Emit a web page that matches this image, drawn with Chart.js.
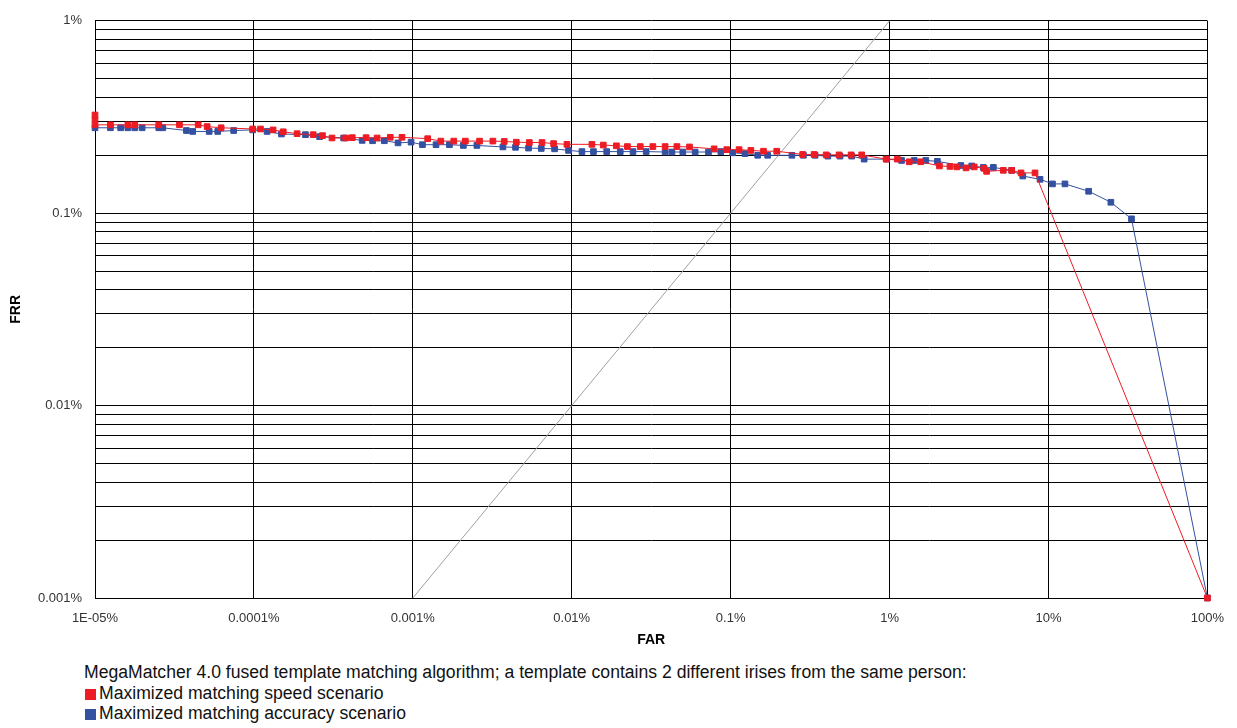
<!DOCTYPE html>
<html>
<head>
<meta charset="utf-8">
<script src="https://cdn.jsdelivr.net/npm/chart.js@4.4.1/dist/chart.umd.min.js"></script>
<style>
  body { margin: 0; background: #fff; font-family: "Liberation Sans", Arial, sans-serif; }
  #wrap { position: absolute; left: 0; top: 0; width: 1237px; height: 660px; }
  #legend { position: absolute; left: 84px; top: 662px; font-size: 17.6px; color: #111; line-height: 20.5px; }
  #legend .sw { display: inline-block; width: 11px; height: 11px; margin: 0 3px 0 1px; vertical-align: -1px; }
</style>
</head>
<body>
<div id="wrap"><canvas id="detChart"></canvas></div>
<div id="legend">
  <div>MegaMatcher 4.0 fused template matching algorithm; a template contains 2 different irises from the same person:</div>
  <div><span class="sw" style="background:#ed1c24"></span>Maximized matching speed scenario</div>
  <div><span class="sw" style="background:#3450a0"></span>Maximized matching accuracy scenario</div>
</div>
<script>
// values in percent
const xTickValues = [0.00001, 0.0001, 0.001, 0.01, 0.1, 1, 10, 100];
const xTickLabels = ['1E-05%', '0.0001%', '0.001%', '0.01%', '0.1%', '1%', '10%', '100%'];
const yTickValues = [0.001, 0.01, 0.1, 1];
const yTickLabels = ['0.001%', '0.01%', '0.1%', '1%'];

const speedFar = [0.00001, 0.00001, 0.00001, 0.0000125, 0.0000161, 0.0000178, 0.0000252, 0.000034, 0.0000446,
  0.0000508, 0.0000622, 0.0000983, 0.00011, 0.000132, 0.000153, 0.000187, 0.000236, 0.00027, 0.00031,
  0.000378, 0.000416, 0.000508, 0.000596, 0.000721, 0.000855, 0.00124, 0.0015, 0.00181, 0.00214, 0.00263,
  0.00319, 0.00376, 0.00448, 0.00541, 0.0065, 0.00769, 0.00933, 0.0134, 0.0158, 0.0191, 0.0224, 0.027,
  0.0324, 0.0387, 0.0459, 0.0551, 0.0787, 0.0946, 0.113, 0.134, 0.161, 0.195, 0.284, 0.335, 0.399, 0.481,
  0.573, 0.668, 0.951, 1.12, 1.33, 1.57, 2.06, 2.4, 2.65, 3.03, 3.41, 3.93, 4.08, 5.2, 5.87, 6.72, 8.23, 100];
const speedFrr = [0.324, 0.306, 0.288, 0.288, 0.288, 0.288, 0.288, 0.288, 0.288,
  0.282, 0.278, 0.274, 0.274, 0.271, 0.265, 0.259, 0.256, 0.253, 0.246,
  0.246, 0.247, 0.247, 0.246, 0.248, 0.248, 0.244, 0.237, 0.237, 0.237, 0.237,
  0.237, 0.236, 0.234, 0.233, 0.233, 0.23, 0.228, 0.228, 0.226, 0.224, 0.222, 0.222,
  0.222, 0.222, 0.222, 0.221, 0.216, 0.214, 0.214, 0.212, 0.21, 0.21, 0.202, 0.202, 0.201, 0.201,
  0.201, 0.201, 0.191, 0.191, 0.185, 0.185, 0.176, 0.175, 0.174, 0.172, 0.174, 0.171, 0.165, 0.167, 0.167, 0.162, 0.162, 0.001];

const accuracyFar = [0.00001, 0.0000125, 0.0000145, 0.0000161, 0.0000178, 0.0000198, 0.0000252, 0.0000267,
  0.0000376, 0.0000412, 0.0000523, 0.0000592, 0.0000746, 0.0000983, 0.000121, 0.000149, 0.000211, 0.000259,
  0.000367, 0.00048, 0.000558, 0.000662, 0.000807, 0.000975, 0.00115, 0.0014, 0.0017, 0.00208, 0.00253,
  0.00369, 0.00443, 0.00535, 0.00643, 0.0078, 0.00955, 0.0116, 0.0137, 0.0166, 0.0202, 0.0243, 0.0294,
  0.0387, 0.0427, 0.05, 0.0598, 0.0725, 0.0867, 0.103, 0.123, 0.148, 0.171, 0.243, 0.287, 0.34, 0.409,
  0.488, 0.578, 0.692, 0.96, 1.19, 1.43, 1.69, 2.0, 2.81, 3.29, 3.89, 4.5, 5.87, 6.89, 8.85, 10.6, 12.7,
  17.9, 24.7, 33.3, 100];
const accuracyFrr = [0.278, 0.278, 0.278, 0.278, 0.278, 0.278, 0.278, 0.278,
  0.269, 0.266, 0.266, 0.266, 0.269, 0.271, 0.266, 0.258, 0.256, 0.25,
  0.246, 0.239, 0.238, 0.238, 0.232, 0.234, 0.227, 0.227, 0.227, 0.225, 0.225,
  0.221, 0.22, 0.218, 0.217, 0.216, 0.212, 0.209, 0.209, 0.209, 0.209, 0.209, 0.209,
  0.208, 0.208, 0.208, 0.208, 0.208, 0.209, 0.206, 0.204, 0.2, 0.2, 0.2, 0.2, 0.2, 0.198,
  0.198, 0.198, 0.191, 0.191, 0.188, 0.188, 0.188, 0.186, 0.177, 0.176, 0.173, 0.173, 0.167, 0.156, 0.15, 0.142, 0.142,
  0.13, 0.114, 0.0935, 0.001];

const diagFar = [0.001, 1];
const diagFrr = [0.001, 1];

const toPoints = (xs, ys) => xs.map((x, i) => ({ x: x, y: ys[i] }));

// minor gridlines on the FRR axis: 1..9 in each decade
const yGridValues = [];
for (let i = 0; i < yTickValues.length - 1; i++) {
  for (let m = 1; m <= 9; m++) yGridValues.push(yTickValues[i] * m);
}
yGridValues.push(yTickValues[yTickValues.length - 1]);

const isDecade = v => Math.abs(Math.log10(v) - Math.round(Math.log10(v))) < 1e-6;
const labelFor = (v, vals, labels) => {
  const i = vals.findIndex(t => Math.abs(Math.log10(t) - Math.log10(v)) < 1e-6);
  return i >= 0 ? labels[i] : '';
};

const tickFont = { family: '"Liberation Sans", Arial, sans-serif', size: 13 };
const titleFont = { family: '"Liberation Sans", Arial, sans-serif', size: 14, weight: 'bold' };

new Chart(document.getElementById('detChart'), {
  type: 'line',
  data: {
    datasets: [{
      label: 'Maximized matching speed scenario',
      data: toPoints(speedFar, speedFrr),
      borderColor: '#ed1c24',
      backgroundColor: '#ed1c24',
      borderWidth: 1,
      pointStyle: 'rect',
      pointRadius: 4,
      pointBorderWidth: 1,
      tension: 0,
      clip: false,
      order: 0
    }, {
      label: 'Maximized matching accuracy scenario',
      data: toPoints(accuracyFar, accuracyFrr),
      borderColor: '#3450a0',
      backgroundColor: '#3450a0',
      borderWidth: 1,
      pointStyle: 'rect',
      pointRadius: 4,
      pointBorderWidth: 1,
      tension: 0,
      clip: false,
      order: 1
    }, {
      label: 'FAR = FRR',
      data: toPoints(diagFar, diagFrr),
      borderColor: '#a0a0a0',
      borderWidth: 1,
      pointRadius: 0,
      tension: 0,
      order: 2
    }]
  },
  options: {
    responsive: true,
    maintainAspectRatio: false,
    animation: false,
    layout: { padding: { left: 0, right: 29, top: 15, bottom: 7 } },
    plugins: {
      legend: { display: false },
      tooltip: { enabled: false }
    },
    scales: {
      x: {
        type: 'logarithmic',
        min: 0.00001,
        max: 100,
        afterBuildTicks: axis => { axis.ticks = xTickValues.map(v => ({ value: v })); },
        afterFit: axis => { axis.height = 55; },
        ticks: {
          autoSkip: false,
          maxRotation: 0,
          padding: 13,
          color: '#333',
          font: tickFont,
          callback: v => labelFor(v, xTickValues, xTickLabels)
        },
        grid: { color: '#000', lineWidth: 1, drawTicks: false },
        border: { color: '#000' },
        title: { display: true, text: 'FAR', color: '#000', font: titleFont, padding: { top: 4, bottom: 4 } }
      },
      y: {
        type: 'logarithmic',
        min: 0.001,
        max: 1,
        afterBuildTicks: axis => { axis.ticks = yGridValues.map(v => ({ value: v })); },
        afterFit: axis => { axis.width = 95; },
        ticks: {
          autoSkip: false,
          padding: 13,
          color: '#333',
          font: tickFont,
          callback: v => isDecade(v) ? labelFor(v, yTickValues, yTickLabels) : ''
        },
        grid: { color: '#000', lineWidth: 1, drawTicks: false },
        border: { color: '#000' },
        title: { display: true, text: 'FRR', color: '#000', font: titleFont, padding: { top: 8, bottom: 4 } }
      }
    }
  }
});
</script>
</body>
</html>
